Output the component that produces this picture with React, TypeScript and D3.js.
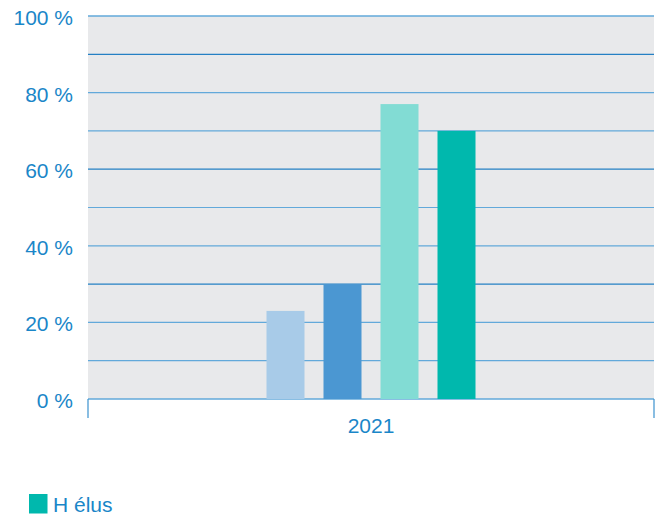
import React from "react";
import * as d3 from "d3";

const categories = ["2021"];
const seriesNames = ["F candidates", "H candidats", "F élues", "H élus"];
const seriesValues = [23, 30, 77, 70];
const seriesColors = ["#a8cbe8", "#4b97d2", "#82dcd4", "#00b8ad"];
const yTicks = [0, 20, 40, 60, 80, 100];
const gridTicks = [0, 10, 20, 30, 40, 50, 60, 70, 80, 90, 100];
const legendItems = ["H élus"];

const W = 656;
const H = 516;
const left = 88;
const right = 654;
const top = 16;
const bottom = 399;
const textColor = "#1a86c8";
const font = "'Liberation Sans', Arial, Helvetica, sans-serif";
const fs = 21;

export default function App() {
  const y = d3.scaleLinear().domain([0, 100]).range([bottom, top]);
  const x0 = d3.scaleBand<string>().domain(categories).range([left, right]);
  const groupW = 228;
  const x1 = d3
    .scaleBand<string>()
    .domain(seriesNames)
    .range([0, groupW])
    .paddingInner(1 / 3)
    .paddingOuter(1 / 6);

  return (
    <svg
      width={W}
      height={H}
      style={{ position: "absolute", left: 0, top: 0, display: "block" }}
    >
      <rect x={left} y={top} width={right - left} height={bottom - top} fill="#e8e9eb" />
      {gridTicks.map((t) => (
        <line
          key={t}
          x1={left}
          x2={right}
          y1={y(t)}
          y2={y(t)}
          stroke={t % 30 === 0 && t !== 0 ? "#2580c4" : "#62a9da"}
          strokeWidth={t === 0 || t === 100 ? 1.5 : 1.2}
        />
      ))}
      {categories.map((c) => {
        const gx = (x0(c) as number) + x0.bandwidth() / 2 - groupW / 2;
        return (
          <g key={c}>
            {seriesNames.map((s, i) => (
              <rect
                key={s}
                x={gx + (x1(s) as number)}
                y={y(seriesValues[i])}
                width={x1.bandwidth()}
                height={y(0) - y(seriesValues[i])}
                fill={seriesColors[i]}
              />
            ))}
            <text
              x={(x0(c) as number) + x0.bandwidth() / 2}
              y={432.5}
              textAnchor="middle"
              fontFamily={font}
              fontSize={fs}
              fill={textColor}
            >
              {c}
            </text>
          </g>
        );
      })}
      <line x1={left} x2={left} y1={bottom} y2={418} stroke="#3b92cf" strokeWidth={1.2} />
      <line x1={right} x2={right} y1={bottom} y2={418} stroke="#3b92cf" strokeWidth={1.2} />
      {yTicks.map((t) => (
        <text
          key={t}
          x={73}
          y={y(t) + 9}
          textAnchor="end"
          fontFamily={font}
          fontSize={fs}
          fill={textColor}
        >
          {`${t} %`}
        </text>
      ))}
      {legendItems.map((name, i) => (
        <g key={name}>
          <rect x={29} y={494} width={18.5} height={19.5} fill={seriesColors[3 + i]} />
          <text x={53} y={511.5} fontFamily={font} fontSize={fs} fill={textColor}>
            {name}
          </text>
        </g>
      ))}
    </svg>
  );
}
